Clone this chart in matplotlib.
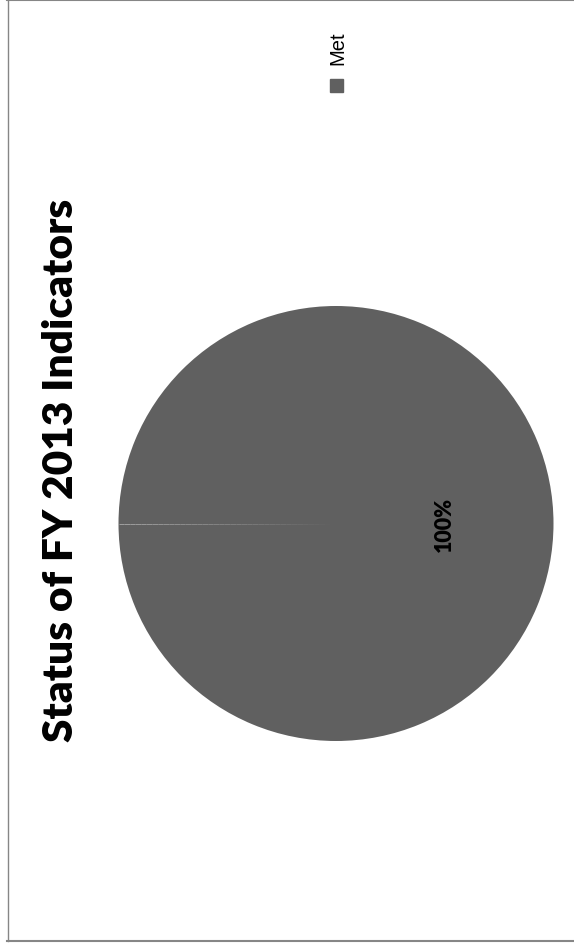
import numpy as np
import matplotlib
matplotlib.use('Agg')
import matplotlib.pyplot as plt
from matplotlib.lines import Line2D
from matplotlib.patches import Rectangle
from matplotlib.collections import LineCollection
from matplotlib.colors import to_rgb

# indicator status shares
categories = ['Met']
values = [100]
colours = ['#606060']
title = 'Status of FY 2013 Indicators'

W, H = 574, 945
fig = plt.figure(figsize=(W / 100, H / 100), dpi=100)


def fx(px):
    return px / W


def fy(py):
    return 1 - py / H


# pie sits in a square axes centred on the page
cx, cy, r = 336, 524.5, 217.5
ax = fig.add_axes([fx(cx - r), fy(cy + r), 2 * r / W, 2 * r / H])
start = 180
wedges, texts, autotexts = ax.pie(values, colors=colours, startangle=start,
                                  autopct='%d%%', pctdistance=0.5,
                                  radius=1.0,
                                  textprops=dict(rotation=90, fontsize=15.5,
                                                 fontweight='heavy', color='black',
                                                 family='Lato'))
ax.set_xlim(-1, 1)
ax.set_ylim(-1, 1)
ax.set_aspect('equal')

# faint seam where the slice starts, fading toward the centre
a = np.deg2rad(start)
t = np.linspace(0, 1, 40)
pts = np.column_stack([t * np.cos(a), t * np.sin(a)])
segs = np.stack([pts[:-1], pts[1:]], axis=1)
c0 = np.array(to_rgb(colours[0]))
c1 = np.array(to_rgb('#a0a0a0'))
mix = (t[:-1] + t[1:]) / 2
seg_cols = [tuple(c0 + (c1 - c0) * m) for m in mix]
ax.add_collection(LineCollection(segs, colors=seg_cols, linewidths=0.7))

# title, turned on its side
fig.text(fx(61), fy(470), title, rotation=90, ha='center', va='center',
         fontsize=30.5, fontweight='heavy', family='Lato')

# legend entry
fig.add_artist(Rectangle((fx(330), fy(93)), 13 / W, 13 / H,
                         transform=fig.transFigure, color=colours[0]))
fig.text(fx(338), fy(48), categories[0], rotation=90, ha='center', va='center',
         fontsize=14.5, family='Liberation Sans')

# chart frame
frame = '#868686'
fig.add_artist(Line2D([fx(7.5), fx(7.5)], [fy(1), fy(942)], color=frame, lw=1.0,
                      transform=fig.transFigure))
fig.add_artist(Line2D([fx(7), fx(574)], [fy(1.2), fy(1.2)], color=frame, lw=1.5,
                      transform=fig.transFigure))
fig.add_artist(Line2D([fx(7), fx(574)], [fy(941.8), fy(941.8)], color=frame, lw=1.5,
                      transform=fig.transFigure))

fig.savefig('out.png', dpi=100)
